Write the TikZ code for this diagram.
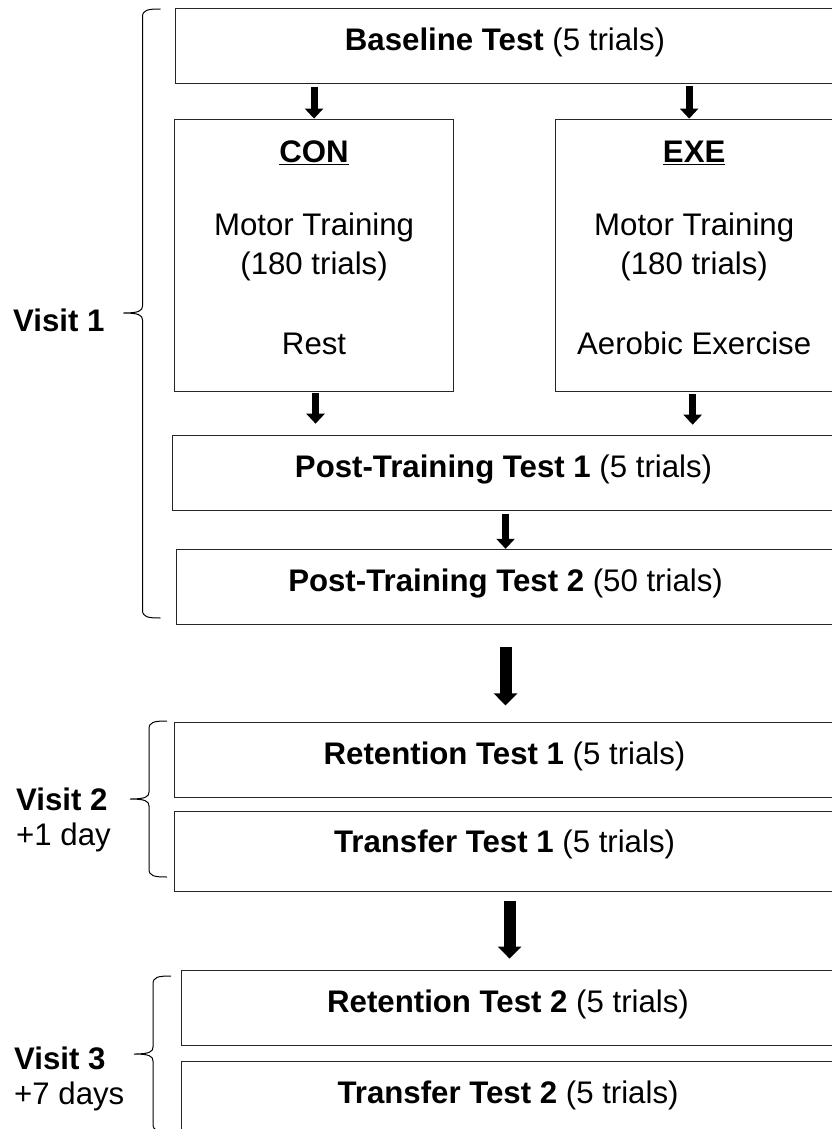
\documentclass[tikz,border=0pt]{standalone}
\usepackage{fontspec}
\setmainfont{Liberation Sans}
\usetikzlibrary{positioning, arrows.meta}

\newcommand{\visitbrace}[4]{%
  \draw[brc] (#1+18,#2) .. controls (#1+5,#2) and (#1,#2+1) .. (#1,#2+8)
    -- (#1,#3-7) .. controls (#1,#3-2) and (#1-4,#3) .. (#1-19,#3)
    .. controls (#1-4,#3) and (#1,#3+2) .. (#1,#3+7)
    -- (#1,#4-8) .. controls (#1,#4-1) and (#1+5,#4) .. (#1+18,#4);}

\begin{document}
\begin{tikzpicture}[x=1pt, y=-1pt,
    box/.style={rectangle, draw=black!85, line width=1.1pt, align=center, inner sep=0pt,
        minimum height=75pt, text depth=14pt, font=\fontsize{31.2}{39}\selectfont},
    armbox/.style={box, minimum width=279pt, minimum height=272pt, text depth=15pt},
    visit/.style={align=left, inner sep=0pt, font=\fontsize{31.2}{35}\selectfont},
    arrow/.style={-{Triangle[width=18pt, length=10pt]}, line width=7pt},
    bigarrow/.style={-{Triangle[width=23pt, length=12pt]}, line width=12pt},
    brc/.style={line width=1pt, black}]
\useasboundingbox (0,0) rectangle (832,1129);
\node[box, minimum width=659pt, anchor=north west] (base) at (175,8) {\textbf{Baseline Test} (5 trials)};
\node[armbox, below=34.5pt of base.south west, anchor=north west, xshift=-1pt] (con)
    {\underline{\textbf{CON}}\\[34pt] Motor Training\\ (180 trials)\\[41pt] Rest};
\node[armbox, minimum width=277pt, right=101pt of con.north east, anchor=north west] (exe)
    {\underline{\textbf{EXE}}\\[34pt] Motor Training\\ (180 trials)\\[41pt] Aerobic Exercise};
\node[box, minimum width=662pt, below=43pt of con.south west, anchor=north west, xshift=-2pt] (pt1)
    {\textbf{Post-Training Test 1} (5 trials)};
\node[box, minimum width=658pt, below=38pt of pt1.south west, anchor=north west, xshift=4pt] (pt2)
    {\textbf{Post-Training Test 2} (50 trials)};
\node[box, minimum width=660pt, below=97pt of pt2.south west, anchor=north west, xshift=-2pt] (ret1)
    {\textbf{Retention Test 1} (5 trials)};
\node[box, minimum width=660pt, minimum height=80pt, text depth=20pt, below=13pt of ret1.south west, anchor=north west] (tr1)
    {\textbf{Transfer Test 1} (5 trials)};
\node[box, minimum width=653pt, below=78pt of tr1.south west, anchor=north west, xshift=7pt] (ret2)
    {\textbf{Retention Test 2} (5 trials)};
\node[box, minimum width=653pt, minimum height=80pt, text depth=20pt, below=15pt of ret2.south west, anchor=north west] (tr2)
    {\textbf{Transfer Test 2} (5 trials)};
\coordinate (exein) at ([xshift=-5pt]exe.north);
\coordinate (conout) at ([xshift=1.5pt]con.south);
\coordinate (exeout) at ([xshift=-1.5pt]exe.south);
\coordinate (ret2in) at ([xshift=1.5pt]ret2.north);
\draw[arrow, shorten <=3pt] (base.south -| con.north) -- (con.north);
\draw[arrow, shorten <=2pt] (base.south -| exein) -- (exein);
\draw[arrow, shorten <=1.5pt, shorten >=11pt] (conout) -- (pt1.north -| conout);
\draw[arrow, shorten <=2.5pt, shorten >=10pt] (exeout) -- (pt1.north -| exeout);
\draw[arrow, shorten <=3.5pt] (pt1.south -| pt2.north) -- (pt2.north);
\draw[bigarrow, shorten <=22.5pt, shorten >=16.5pt] (pt2.south) -- (ret1.north -| pt2.south);
\draw[bigarrow, shorten <=8.5pt, shorten >=11.5pt] (tr1.south -| ret2in) -- (ret2in);
\visitbrace{142.5}{9}{313}{618}
\visitbrace{149}{721}{799}{877}
\visitbrace{153}{976}{1054}{1132}
\node[visit, anchor=west] (v1) at (13,320) {\textbf{Visit 1}};
\node[visit, anchor=north west] (v2) at (16,788) {\textbf{Visit 2}\\ +1 day};
\node[visit, anchor=north west] (v3) at (14,1047) {\textbf{Visit 3}\\ +7 days};
\end{tikzpicture}
\end{document}
